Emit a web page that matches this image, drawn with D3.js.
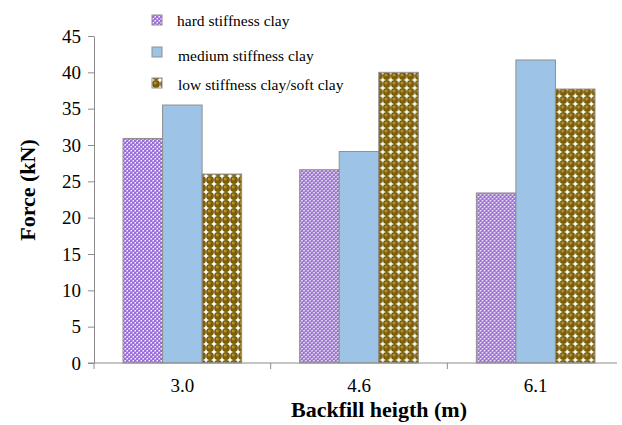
<!DOCTYPE html>
<html>
<head>
<meta charset="utf-8">
<script src="https://cdn.jsdelivr.net/npm/d3@7"></script>
<style>
  html, body { margin: 0; padding: 0; background: #fff; }
  svg { display: block; }
</style>
</head>
<body>
<svg id="chart" width="622" height="425"></svg>
<script>
// Backfill heights (categories) and lateral force for each clay type (kN)
const heights = ["3.0", "4.6", "6.1"];
const seriesNames = ["hard stiffness clay", "medium stiffness clay", "low stiffness clay/soft clay"];
const hardClay = [30.9, 26.6, 23.4];
const mediumClay = [35.5, 29.1, 41.7];
const softClay = [26.0, 40.0, 37.7];
const yTicks = [0, 5, 10, 15, 20, 25, 30, 35, 40, 45];

const seriesValues = [hardClay, mediumClay, softClay];
const fills = ["url(#hardPat)", "#9dc3e6", "url(#softPat)"];
const FONT = "Liberation Serif";

const svg = d3.select("#chart").attr("font-family", FONT);
const plot = { left: 94, right: 624, top: 36, bottom: 363 };

// Fill patterns
const defs = svg.append("defs");

// woven lavender texture
const hp = defs.append("pattern").attr("id", "hardPat")
  .attr("patternUnits", "userSpaceOnUse").attr("width", 4).attr("height", 4);
hp.append("rect").attr("width", 4).attr("height", 4).attr("fill", "#c3a3ea");
hp.append("rect").attr("x", 0).attr("y", 0).attr("width", 2).attr("height", 2).attr("fill", "#9a70d2");
hp.append("rect").attr("x", 2).attr("y", 2).attr("width", 2).attr("height", 2).attr("fill", "#9a70d2");
hp.append("rect").attr("x", 3).attr("y", 0).attr("width", 1).attr("height", 1).attr("fill", "#ffffff");
hp.append("rect").attr("x", 1).attr("y", 2).attr("width", 1).attr("height", 1).attr("fill", "#ffffff");

// olive balls on white
const sp = defs.append("pattern").attr("id", "softPat")
  .attr("patternUnits", "userSpaceOnUse").attr("width", 8).attr("height", 8);
sp.append("rect").attr("width", 8).attr("height", 8).attr("fill", "#ffffff");
sp.append("circle").attr("cx", 4).attr("cy", 4).attr("r", 3.9).attr("fill", "#7a5d08");
sp.append("circle").attr("cx", 3.3).attr("cy", 3.0).attr("r", 1.5).attr("fill", "#b3922e");

// Scales
const x0 = d3.scaleBand().domain(heights).range([plot.left, plot.right]).paddingInner(0).paddingOuter(0);
const x1 = d3.scaleBand().domain(d3.range(seriesNames.length))
  .range([29, x0.bandwidth() - 29]).padding(0);
const y = d3.scaleLinear().domain([0, 45]).range([plot.bottom, plot.top]);

const axisColor = "#8c8c8c";

// Bars
heights.forEach((h, i) => {
  const g = svg.append("g").attr("transform", `translate(${x0(h)},0)`);
  seriesValues.forEach((vals, s) => {
    g.append("rect")
      .attr("x", x1(s))
      .attr("y", y(vals[i]))
      .attr("width", x1.bandwidth())
      .attr("height", y(0) - y(vals[i]))
      .attr("fill", fills[s])
      .attr("stroke", "#8f8f8f")
      .attr("stroke-width", 1);
  });
});

// Y axis
const yAxis = d3.axisLeft(y).tickValues(yTicks).tickSize(6).tickPadding(7).tickSizeOuter(0);
const gy = svg.append("g").attr("transform", `translate(${plot.left},0)`).call(yAxis)
  .attr("font-family", FONT).attr("font-size", 19);
gy.select(".domain").attr("stroke", axisColor);
gy.selectAll(".tick line").attr("stroke", axisColor);
gy.selectAll(".tick text").attr("fill", "#000");

// X axis line and category separators
svg.append("line")
  .attr("x1", plot.left - 6).attr("x2", 617)
  .attr("y1", plot.bottom).attr("y2", plot.bottom)
  .attr("stroke", axisColor);
heights.forEach(h => {
  svg.append("line")
    .attr("x1", x0(h)).attr("x2", x0(h))
    .attr("y1", plot.bottom).attr("y2", plot.bottom + 6)
    .attr("stroke", axisColor);
});
svg.selectAll(".xlabel").data(heights).enter().append("text")
  .attr("x", d => x0(d) + x0.bandwidth() / 2)
  .attr("y", 392)
  .attr("text-anchor", "middle")
  .attr("font-family", FONT)
  .attr("font-size", 19)
  .text(d => d);

// Axis titles
svg.append("text")
  .attr("x", 379).attr("y", 417)
  .attr("text-anchor", "middle")
  .attr("font-family", FONT)
  .attr("font-size", 22).attr("font-weight", "bold")
  .text("Backfill heigth (m)");
svg.append("text")
  .attr("transform", "translate(35,190) rotate(-90)")
  .attr("text-anchor", "middle")
  .attr("font-family", FONT)
  .attr("font-size", 22).attr("font-weight", "bold")
  .text("Force (kN)");

// Legend
const legendY = [15, 47, 78];
const legendTextY = [26, 61, 90];
seriesNames.forEach((name, s) => {
  svg.append("rect")
    .attr("x", 152).attr("y", legendY[s])
    .attr("width", 10).attr("height", 10)
    .attr("fill", fills[s])
    .attr("stroke", "#8f8f8f");
  svg.append("text")
    .attr("x", s === 0 ? 177 : 178).attr("y", legendTextY[s])
    .attr("font-family", FONT)
    .attr("font-size", 15.5)
    .text(name);
});
</script>
</body>
</html>
